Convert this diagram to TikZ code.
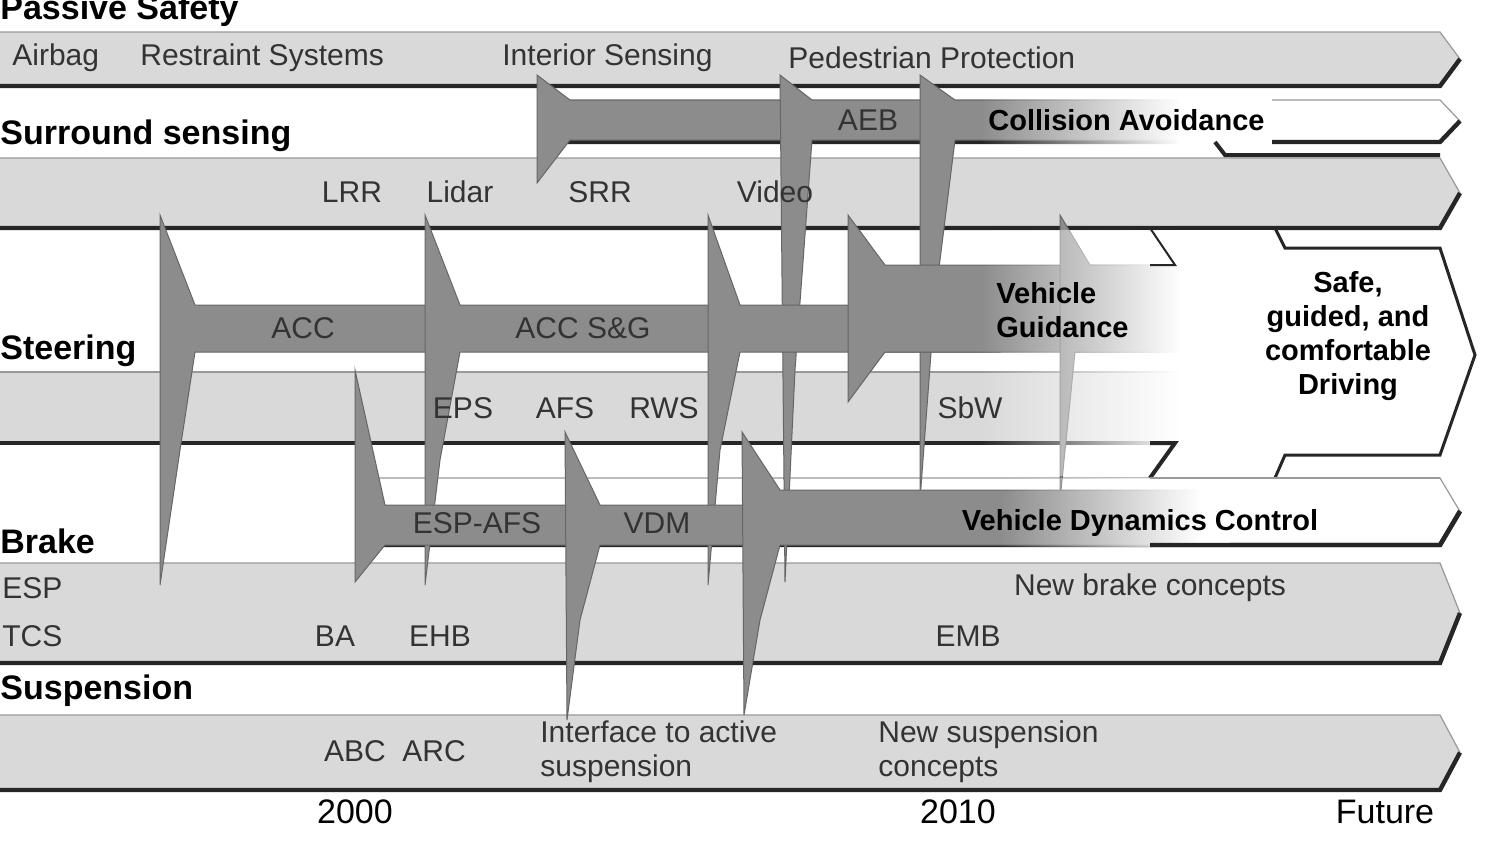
\documentclass[tikz,border=0pt]{standalone}
\usepackage{fontspec}
\setmainfont{Liberation Sans}
\usetikzlibrary{fadings}
\newcommand\myband[5]{% x0 y1 y2 xend fill
  \fill[#5] (#1,#2) -- ({#4-20},#2) -- (#4,{(#2+#3)/2}) -- ({#4-20},#3) -- (#1,#3) -- cycle;
  \draw[black!40,line width=0.6pt] (#1,#2) -- ({#4-20},#2) -- (#4,{(#2+#3)/2});
  \draw[black!85,line width=2.2pt] (#1,#3) -- ({#4-20},#3) -- (#4,{(#2+#3)/2});}
\begin{document}
\begin{tikzpicture}[x=0.5pt,y=-0.5pt,
  lbl/.style={font=\fontsize{15}{17}\selectfont,text=black!80,inner sep=0},
  hd/.style={font=\fontsize{17}{19}\selectfont\bfseries,anchor=west,inner sep=0},
  bl/.style={font=\fontsize{14.5}{17}\selectfont\bfseries,inner sep=0},
  yr/.style={font=\fontsize{17}{19}\selectfont,inner sep=0},
  dark/.style={fill=black!45,draw=black!60,line width=0.5pt}]
\useasboundingbox (0,0) rectangle (1490,848);
\fill[white] (0,0) rectangle (1490,848);
% bands
\myband{0}{32}{86}{1460}{black!15}
\myband{540}{100}{142}{1460}{white}
\myband{0}{158}{228}{1460}{black!15}
\myband{360}{478}{545}{1460}{white}
\myband{0}{563}{663}{1460}{black!15}
\myband{0}{715}{790}{1460}{black!15}
% steering band (fades out)
\fill[black!15] (0,372) rectangle (1200,443);
\draw[black!40,line width=0.6pt] (0,372) -- (1200,372);
\draw[black!85,line width=2.2pt] (0,443) -- (1200,443);
% dark arrows
\filldraw[dark] (537,75)--(570,100)--(795,100)--(805,120)--(795,140)--(570,140)--(537,183)--cycle;
\filldraw[dark] (780,75)--(812,100)--(935,100)--(945,120)--(935,140)--(812,140)--(795,370)--(785,582)--cycle;
\filldraw[dark] (920,75)--(955,100)--(1200,100)--(1200,140)--(955,140)--(935,300)--(920,500)--cycle;
\filldraw[dark] (160,215)--(195,305)--(443,305)--(453,328)--(443,352)--(195,352)--(180,450)--(160,585)--cycle;
\filldraw[dark] (425,215)--(460,305)--(723,305)--(733,328)--(723,352)--(460,352)--(440,460)--(425,585)--cycle;
\filldraw[dark] (708,215)--(740,305)--(1000,305)--(1000,352)--(740,352)--(720,450)--(708,585)--cycle;
\filldraw[dark] (848,215)--(885,265)--(1200,265)--(1200,352)--(885,352)--(848,402)--cycle;
\filldraw[dark] (1060,215)--(1090,265)--(1200,265)--(1200,352)--(1075,352)--(1060,500)--cycle;
\filldraw[dark] (355,370)--(385,505)--(585,505)--(595,523)--(585,545)--(385,545)--(355,582)--cycle;
\filldraw[dark] (565,432)--(600,505)--(745,505)--(745,545)--(600,545)--(580,620)--(567,720)--cycle;
\filldraw[dark] (742,432)--(780,490)--(1200,490)--(1200,545)--(780,545)--(760,620)--(744,715)--cycle;
% fading overlay
\fill[white,path fading=west] (980,92) rectangle (1180,157);
\fill[white] (1179,92) rectangle (1272,157);
\fill[white,path fading=west] (980,230) rectangle (1180,476);
\fill[white] (1179,230) rectangle (1272,476);
\fill[white,path fading=west] (1000,478) rectangle (1200,547);
\fill[white] (1199,478) rectangle (1230,547);
% white pieces
\draw[black!85,line width=2pt] (1215,142)--(1225,155)--(1440,155);
\draw[black!85,line width=1pt] (1150,228)--(1175,265)--(1150,265);
\draw[black!85,line width=2pt] (1150,478)--(1175,443)--(1150,443);
\draw[black!85,line width=1.5pt] (1275,228)--(1285,248)--(1440,248)--(1475,355)--(1440,455)--(1285,455)--(1275,478);
\draw[black!85,line width=2.2pt] (1150,545)--(1440,545)--(1460,511);
\draw[black!40,line width=0.6pt] (1150,478)--(1440,478);
% headings
\node[hd] (hps) at (0,11) {Passive Safety};
\node[hd] (hss) at (0,136) {Surround sensing};
\node[hd] (hst) at (0,351) {Steering};
\node[hd] (hbr) at (0,541) {Brake};
\node[hd] (hsu) at (0,691) {Suspension};
% labels
\node[lbl,anchor=west] (t1) at (12,58) {Airbag};
\node[lbl,anchor=west] (t2) at (140,58) {Restraint Systems};
\node[lbl,anchor=west] (t3) at (502,58) {Interior Sensing};
\node[lbl,anchor=west] (t4) at (788,58) {Pedestrian Protection};
\node[lbl] (aeb) at (868,120) {AEB};
\node[bl,anchor=west] (ca) at (988,120) {Collision Avoidance};
\node[lbl] (lrr) at (352,192) {LRR};
\node[lbl] (lid) at (460,192) {Lidar};
\node[lbl] (srr) at (600,192) {SRR};
\node[lbl] (vid) at (775,192) {Video};
\node[lbl] (acc) at (303,328) {ACC};
\node[lbl] (accsg) at (583,328) {ACC S\&G};
\node[bl,align=left,anchor=west] (vg) at (996,310) {Vehicle\\Guidance};
\node[bl,align=center] (safe) at (1348,336) {Safe,\\guided, and\\comfortable\\Driving};
\node[lbl] (eps) at (463,408) {EPS};
\node[lbl] (afs) at (565,408) {AFS};
\node[lbl] (rws) at (664,408) {RWS};
\node[lbl] (sbw) at (970,408) {SbW};
\node[lbl] (espafs) at (477,523) {ESP-AFS};
\node[lbl] (vdm) at (657,523) {VDM};
\node[bl] (vdc) at (1140,523) {Vehicle Dynamics Control};
\node[lbl,anchor=west] (esp) at (2,588) {ESP};
\node[lbl,anchor=west] (tcs) at (2,636) {TCS};
\node[lbl] (ba) at (335,636) {BA};
\node[lbl] (ehb) at (440,636) {EHB};
\node[lbl] (emb) at (968,636) {EMB};
\node[lbl] (nbc) at (1150,588) {New brake concepts};
\node[lbl] (abc) at (395,751) {ABC\ \ ARC};
\node[lbl,anchor=west,align=left] (ias) at (540,752) {Interface to active\\suspension};
\node[lbl,anchor=west,align=left] (nsc) at (878,752) {New suspension\\concepts};
\node[yr] (y1) at (355,812) {2000};
\node[yr] (y2) at (958,812) {2010};
\node[yr] (y3) at (1385,812) {Future};
\end{tikzpicture}
\end{document}
